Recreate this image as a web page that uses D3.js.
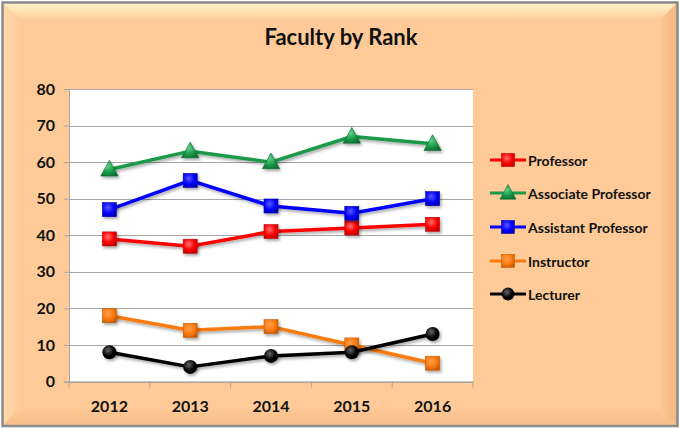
<!DOCTYPE html>
<html>
<head>
<meta charset="utf-8">
<script src="https://cdn.jsdelivr.net/npm/d3@7"></script>
<style>
body{margin:0;background:#fff;}
text{font-family:Lato,"Open Sans",sans-serif;font-weight:bold;fill:#111;}
</style>
</head>
<body>
<svg width="680" height="429"></svg>
<script>
var years = ["2012","2013","2014","2015","2016"];
var yTicks = [0,10,20,30,40,50,60,70,80];
var professor = [39,37,41,42,43];
var associate = [58,63,60,67,65];
var assistant = [47,55,48,46,50];
var instructor = [18,14,15,10,5];
var lecturer = [8,4,7,8,13];

var series = [
  {name:"Professor", values:professor, color:"#ff0000", light:"#ff7070", dark:"#c00000", shape:"square"},
  {name:"Associate Professor", values:associate, color:"#1a9a48", light:"#5fd08a", dark:"#0e6e30", shape:"triangle"},
  {name:"Assistant Professor", values:assistant, color:"#0000ff", light:"#5a5aff", dark:"#0000b0", shape:"square"},
  {name:"Instructor", values:instructor, color:"#fa7a0c", light:"#ffa050", dark:"#c85a00", shape:"square"},
  {name:"Lecturer", values:lecturer, color:"#000000", light:"#666", dark:"#000", shape:"circle"}
];
// draw order in the plot: lower lines first
var drawOrder = [3,4,0,2,1];

var width = 680, height = 429;
var margin = {top: 89, right: 207, bottom: 47, left: 69};

var svg = d3.select("svg");
var defs = svg.append("defs");

function grad(id, x2, y2, c0, c1){
  var g = defs.append("linearGradient").attr("id",id).attr("x1",0).attr("y1",0).attr("x2",x2).attr("y2",y2);
  g.append("stop").attr("offset","0").attr("stop-color",c0);
  g.append("stop").attr("offset","1").attr("stop-color",c1);
}
grad("bevTop",0,1,"#fff6cc","#fecc99");
grad("bevLeft",1,0,"#ffd9ad","#fecb98");
grad("bevRight",1,0,"#fcc793","#f2b581");
grad("bevBot",0,1,"#fdc895","#f6bd88");

series.forEach(function(s,i){
  var g = defs.append("radialGradient").attr("id","m"+i).attr("cx","40%").attr("cy","35%").attr("r","70%");
  g.append("stop").attr("offset","0").attr("stop-color",s.light);
  g.append("stop").attr("offset","0.6").attr("stop-color",s.color);
  g.append("stop").attr("offset","1").attr("stop-color",s.dark);
});

var sh = defs.append("filter").attr("id","shadow").attr("x","-30%").attr("y","-30%").attr("width","170%").attr("height","170%");
sh.append("feDropShadow").attr("dx",1.5).attr("dy",2).attr("stdDeviation",1.5).attr("flood-color","#000").attr("flood-opacity",0.35);

// frame with bevel
var fx0 = 2.5, fy0 = 2.5, fx1 = 677.5, fy1 = 426, bw = 17;
svg.append("rect").attr("x",fx0).attr("y",fy0).attr("width",fx1-fx0).attr("height",fy1-fy0)
  .attr("fill","#fecb98");
svg.append("path").attr("d","M"+fx0+","+fy0+"L"+fx1+","+fy0+"L"+(fx1-bw)+","+(fy0+bw)+"L"+(fx0+bw)+","+(fy0+bw)+"Z").attr("fill","url(#bevTop)");
svg.append("path").attr("d","M"+fx0+","+fy0+"L"+(fx0+bw)+","+(fy0+bw)+"L"+(fx0+bw)+","+(fy1-bw)+"L"+fx0+","+fy1+"Z").attr("fill","url(#bevLeft)");
svg.append("path").attr("d","M"+fx1+","+fy0+"L"+fx1+","+fy1+"L"+(fx1-bw)+","+(fy1-bw)+"L"+(fx1-bw)+","+(fy0+bw)+"Z").attr("fill","url(#bevRight)");
svg.append("path").attr("d","M"+fx0+","+fy1+"L"+fx1+","+fy1+"L"+(fx1-bw)+","+(fy1-bw)+"L"+(fx0+bw)+","+(fy1-bw)+"Z").attr("fill","url(#bevBot)");
svg.append("rect").attr("x",fx0).attr("y",fy0).attr("width",fx1-fx0).attr("height",fy1-fy0)
  .attr("fill","none").attr("stroke","#8a8a8a").attr("stroke-width",2.5);

// title
svg.append("text").attr("x",341).attr("y",45).attr("text-anchor","middle")
  .style("font-size","22px").text("Faculty by Rank");

var x = d3.scaleBand().domain(years).range([margin.left, width - margin.right]);
var y = d3.scaleLinear().domain([0,80]).range([height - margin.bottom - 0.5, margin.top]);

// plot area
svg.append("rect").attr("x",margin.left).attr("y",margin.top)
  .attr("width",width - margin.right - margin.left).attr("height",y(0) - margin.top).attr("fill","#fff");

// gridlines
svg.append("g").selectAll("line").data(yTicks).join("line")
  .attr("x1",margin.left).attr("x2",width - margin.right)
  .attr("y1",d => Math.round(y(d))+0.5).attr("y2",d => Math.round(y(d))+0.5)
  .attr("stroke","#a6a6a6").attr("stroke-width",1.2);

// y axis
var yAxis = svg.append("g").attr("transform","translate(" + margin.left + ",0)")
  .call(d3.axisLeft(y).tickValues(yTicks).tickSize(5).tickPadding(9));
yAxis.select(".domain").attr("stroke","#a6a6a6");
yAxis.selectAll(".tick line").attr("stroke","#a6a6a6");
yAxis.selectAll("text").style("font-size","16px").attr("fill","#111").style("font-family","Lato,sans-serif");

// x axis
var xAxis = svg.append("g").attr("transform","translate(0," + y(0) + ")")
  .call(d3.axisBottom(x).tickSize(0).tickPadding(19));
xAxis.select(".domain").attr("stroke","#a6a6a6");
xAxis.selectAll("text").style("font-size","16px").attr("fill","#111").style("font-family","Lato,sans-serif");
svg.append("g").selectAll("line").data(years.concat(["end"])).join("line")
  .attr("x1",(d,i) => margin.left + i * x.bandwidth()).attr("x2",(d,i) => margin.left + i * x.bandwidth())
  .attr("y1",y(0)).attr("y2",y(0)+6).attr("stroke","#a6a6a6");

var cx = d => x(d) + x.bandwidth()/2;

function marker(sel, s, i, size){
  if(s.shape == "square"){
    sel.append("rect").attr("x",-size/2).attr("y",-size/2).attr("width",size).attr("height",size)
      .attr("fill","url(#m"+i+")").attr("stroke",s.dark).attr("stroke-width",0.6);
  } else if(s.shape == "triangle"){
    var h = size*1.05;
    sel.append("path").attr("d","M0," + (-h*0.62) + "L" + (size*0.62) + "," + (h*0.45) + "L" + (-size*0.62) + "," + (h*0.45) + "Z")
      .attr("fill","url(#m"+i+")").attr("stroke",s.dark).attr("stroke-width",0.6);
  } else {
    sel.append("circle").attr("r",size/2).attr("fill","url(#m"+i+")");
  }
}

var line = d3.line().x((d,j) => cx(years[j])).y(d => y(d));

drawOrder.forEach(function(i){
  var s = series[i];
  var g = svg.append("g");
  g.append("path").datum(s.values).attr("d",line).attr("fill","none")
    .attr("stroke",s.color).attr("stroke-width",3.5).attr("stroke-linejoin","round")
    .attr("filter","url(#shadow)");
  g.selectAll("g.pt").data(s.values).join("g").attr("class","pt")
    .attr("transform",(d,j) => "translate(" + cx(years[j]) + "," + y(d) + ")")
    .attr("filter","url(#shadow)")
    .each(function(){ marker(d3.select(this), s, i, 14); });
});

// legend
var legY = [160,193,227,261,294];
var leg = svg.append("g");
series.forEach(function(s,i){
  var g = leg.append("g").attr("transform","translate(0," + legY[i] + ")");
  g.append("line").attr("x1",490).attr("x2",526).attr("stroke",s.color).attr("stroke-width",3);
  var m = g.append("g").attr("transform","translate(508,0)");
  marker(m, s, i, 13);
  g.append("text").attr("x",528).attr("y",5.5).style("font-size","14px").text(s.name);
});
</script>
</body>
</html>
